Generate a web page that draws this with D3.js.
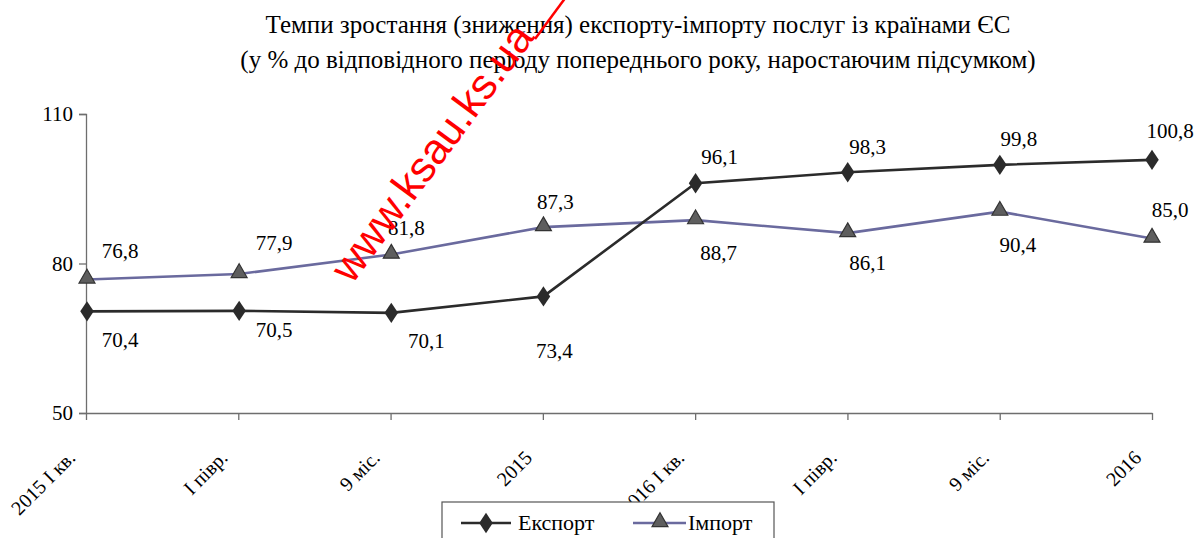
<!DOCTYPE html>
<html>
<head>
<meta charset="utf-8">
<script src="https://cdn.jsdelivr.net/npm/d3@7"></script>
<style>
  body { margin: 0; background: #fff; }
</style>
</head>
<body>
<svg id="chart" width="1201" height="538"></svg>
<script>
// data
const categories = ['2015 I кв.', 'I півр.', '9 міс.', '2015', '2016 I кв.', 'I півр.', '9 міс.', '2016']
const exportVals = [70.4, 70.5, 70.1, 73.4, 96.1, 98.3, 99.8, 100.8]
const importVals = [76.8, 77.9, 81.8, 87.3, 88.7, 86.1, 90.4, 85.0]
const yTicks     = [50, 80, 110]
const titleLines = ['Темпи зростання (зниження) експорту-імпорту послуг із країнами ЄС',
                    '(у % до відповідного періоду попереднього року, наростаючим підсумком)']

// where the data labels sit relative to their point
const exportLab = [[33, 36], [35, 26], [35, 35], [11, 62], [24, -19], [20, -18], [19, -19], [18, -22]]
const importLab = [[33, -21], [35, -24], [15, -20], [12, -18], [23, 40], [20, 37], [18, 40], [18, -22]]

const SERIF = '"Liberation Serif", "Times New Roman", Times, serif'

let svg = d3.select('#chart').attr('font-family', SERIF),
    fmt = v => d3.format('.1f')(v).replace('.', ','),
    x   = d3.scalePoint().domain(d3.range(categories.length)).range([87, 1152]),
    y   = d3.scaleLinear().domain([50, 110]).range([413, 114]),
    axisCol = '#6e6e6e',
    exCol = '#2b2b2b',
    imCol = '#6a6a9e'

// title
svg.append('g').selectAll('text')
  .data(titleLines).join('text')
    .attr('x', 638)
    .attr('y', (d, i) => 33 + i * 35)
    .attr('text-anchor', 'middle')
    .attr('font-family', SERIF)
    .attr('font-size', 25)
    .attr('fill', '#000')
    .text(d => d)

// y axis
let gy = svg.append('g')
  .attr('transform', 'translate(86,0)')
  .call(d3.axisLeft(y).tickValues(yTicks).tickSize(7).tickPadding(6))
gy.attr('font-family', SERIF)
gy.select('.domain').attr('stroke', axisCol).attr('stroke-width', 1.3)
gy.selectAll('.tick line').attr('stroke', axisCol).attr('stroke-width', 1.3)
gy.selectAll('.tick text').attr('font-size', 21).attr('fill', '#000')

// x axis
let gx = svg.append('g')
  .attr('transform', 'translate(0,413)')
  .call(d3.axisBottom(d3.scalePoint().domain(d3.range(categories.length)).range([86, 1152]))
    .tickSize(7).tickSizeOuter(0).tickFormat(i => categories[i]))
gx.attr('font-family', SERIF)
gx.select('.domain').attr('stroke', axisCol).attr('stroke-width', 1.3)
gx.selectAll('.tick line').attr('stroke', axisCol).attr('stroke-width', 1.3)
gx.selectAll('.tick text')
  .attr('font-size', 20).attr('fill', '#000')
  .attr('text-anchor', 'end')
  .attr('dy', 0)
  .attr('y', 0)
  .attr('transform', 'translate(-10,46) rotate(-45)')

// lines
let line = d3.line().x((d, i) => x(i)).y(d => y(d))

svg.append('path')
  .datum(importVals)
  .attr('d', line)
  .attr('fill', 'none')
  .attr('stroke', imCol)
  .attr('stroke-width', 2.6)

svg.append('path')
  .datum(exportVals)
  .attr('d', line)
  .attr('fill', 'none')
  .attr('stroke', exCol)
  .attr('stroke-width', 2.6)

let diamond = d3.symbol().type(d3.symbolDiamond).size(120),
    tri     = d3.symbol().type(d3.symbolTriangle).size(110)

svg.append('g').selectAll('path')
  .data(importVals).join('path')
    .attr('d', tri)
    .attr('transform', (d, i) => 'translate(' + x(i) + ',' + (y(d) - 1) + ')')
    .attr('fill', '#5e5e5e')
    .attr('stroke', '#333')
    .attr('stroke-width', 1.2)

svg.append('g').selectAll('path')
  .data(exportVals).join('path')
    .attr('d', diamond)
    .attr('transform', (d, i) => 'translate(' + x(i) + ',' + y(d) + ') scale(1.15,1)')
    .attr('fill', exCol)

// data labels
function labels(vals, offs) {
  svg.append('g').selectAll('text')
    .data(vals).join('text')
      .attr('x', (d, i) => x(i) + offs[i][0])
      .attr('y', (d, i) => y(d) + offs[i][1])
      .attr('text-anchor', 'middle')
      .attr('font-size', 21)
      .attr('fill', '#000')
      .text(fmt)
}
labels(exportVals, exportLab)
labels(importVals, importLab)

// legend
let lg = svg.append('g').attr('transform', 'translate(442,502)')
lg.append('rect')
  .attr('x', 0).attr('y', 0).attr('width', 332).attr('height', 50)
  .attr('fill', '#fff').attr('stroke', '#555').attr('stroke-width', 1.2)
lg.append('line').attr('x1', 19).attr('x2', 69).attr('y1', 21).attr('y2', 21)
  .attr('stroke', exCol).attr('stroke-width', 2.6)
lg.append('path').attr('d', diamond)
  .attr('transform', 'translate(44,21) scale(1.15,1)').attr('fill', exCol)
lg.append('text').attr('x', 76).attr('y', 28).attr('font-size', 22).text('Експорт')
lg.append('line').attr('x1', 191).attr('x2', 244).attr('y1', 21).attr('y2', 21)
  .attr('stroke', imCol).attr('stroke-width', 2.6)
lg.append('path').attr('d', tri)
  .attr('transform', 'translate(218,20)')
  .attr('fill', '#5e5e5e').attr('stroke', '#333').attr('stroke-width', 1.2)
lg.append('text').attr('x', 246).attr('y', 28).attr('font-size', 22).text('Імпорт')

// watermark
let wm = svg.append('g').attr('pointer-events', 'none')
wm.append('text')
  .attr('transform', 'translate(352,285) rotate(-53.5)')
  .attr('font-family', '"Liberation Sans", Arial, sans-serif')
  .attr('font-size', 43)
  .attr('fill', '#ff0000')
  .text('www.ksau.ks.ua')
wm.append('line')
  .attr('x1', 535).attr('y1', 39).attr('x2', 566).attr('y2', -3)
  .attr('stroke', '#ff0000').attr('stroke-width', 2.5)
</script>
</body>
</html>
